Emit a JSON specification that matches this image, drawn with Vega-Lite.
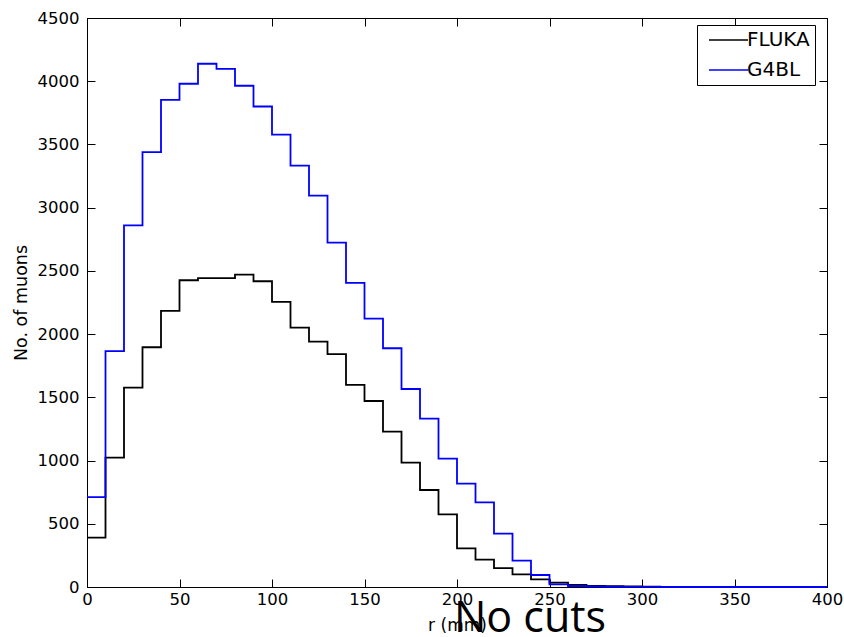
{
  "$schema": "https://vega.github.io/schema/vega-lite/v6.json",
  "width": 740,
  "height": 569,
  "autosize": {"type": "none"},
  "padding": {"left": 87, "top": 18, "right": 17, "bottom": 50},
  "background": "white",
  "title": {"text": "No cuts", "orient": "bottom", "anchor": "middle", "frame": "group", "font": "Open Sans", "fontSize": 43, "fontWeight": "normal", "color": "black", "dx": 73, "offset": -36},
  "config": {
    "view": {"stroke": "black", "strokeWidth": 1},
    "axis": {"grid": false, "domainColor": "black", "tickColor": "black", "labelColor": "black", "titleColor": "black", "labelFont": "DejaVu Sans", "titleFont": "DejaVu Sans", "titleFontWeight": "normal", "labelFlush": false, "labelOverlap": false}
  },
  "data": {"values": [
    {"r": 0, "count": 390, "series": "FLUKA"},
    {"r": 10, "count": 1023, "series": "FLUKA"},
    {"r": 20, "count": 1577, "series": "FLUKA"},
    {"r": 30, "count": 1896, "series": "FLUKA"},
    {"r": 40, "count": 2184, "series": "FLUKA"},
    {"r": 50, "count": 2426, "series": "FLUKA"},
    {"r": 60, "count": 2442, "series": "FLUKA"},
    {"r": 70, "count": 2442, "series": "FLUKA"},
    {"r": 80, "count": 2471, "series": "FLUKA"},
    {"r": 90, "count": 2418, "series": "FLUKA"},
    {"r": 100, "count": 2255, "series": "FLUKA"},
    {"r": 110, "count": 2052, "series": "FLUKA"},
    {"r": 120, "count": 1941, "series": "FLUKA"},
    {"r": 130, "count": 1841, "series": "FLUKA"},
    {"r": 140, "count": 1598, "series": "FLUKA"},
    {"r": 150, "count": 1471, "series": "FLUKA"},
    {"r": 160, "count": 1229, "series": "FLUKA"},
    {"r": 170, "count": 983, "series": "FLUKA"},
    {"r": 180, "count": 767, "series": "FLUKA"},
    {"r": 190, "count": 575, "series": "FLUKA"},
    {"r": 200, "count": 306, "series": "FLUKA"},
    {"r": 210, "count": 216, "series": "FLUKA"},
    {"r": 220, "count": 150, "series": "FLUKA"},
    {"r": 230, "count": 100, "series": "FLUKA"},
    {"r": 240, "count": 61, "series": "FLUKA"},
    {"r": 250, "count": 34, "series": "FLUKA"},
    {"r": 260, "count": 16, "series": "FLUKA"},
    {"r": 270, "count": 8, "series": "FLUKA"},
    {"r": 280, "count": 6, "series": "FLUKA"},
    {"r": 290, "count": 5, "series": "FLUKA"},
    {"r": 300, "count": 2, "series": "FLUKA"},
    {"r": 310, "count": 1, "series": "FLUKA"},
    {"r": 320, "count": 1, "series": "FLUKA"},
    {"r": 330, "count": 0, "series": "FLUKA"},
    {"r": 340, "count": 0, "series": "FLUKA"},
    {"r": 350, "count": 0, "series": "FLUKA"},
    {"r": 360, "count": 0, "series": "FLUKA"},
    {"r": 370, "count": 0, "series": "FLUKA"},
    {"r": 380, "count": 0, "series": "FLUKA"},
    {"r": 390, "count": 0, "series": "FLUKA"},
    {"r": 400, "count": 0, "series": "FLUKA"},
    {"r": 0, "count": 710, "series": "G4BL"},
    {"r": 10, "count": 1865, "series": "G4BL"},
    {"r": 20, "count": 2860, "series": "G4BL"},
    {"r": 30, "count": 3440, "series": "G4BL"},
    {"r": 40, "count": 3853, "series": "G4BL"},
    {"r": 50, "count": 3980, "series": "G4BL"},
    {"r": 60, "count": 4138, "series": "G4BL"},
    {"r": 70, "count": 4098, "series": "G4BL"},
    {"r": 80, "count": 3964, "series": "G4BL"},
    {"r": 90, "count": 3800, "series": "G4BL"},
    {"r": 100, "count": 3578, "series": "G4BL"},
    {"r": 110, "count": 3333, "series": "G4BL"},
    {"r": 120, "count": 3096, "series": "G4BL"},
    {"r": 130, "count": 2724, "series": "G4BL"},
    {"r": 140, "count": 2405, "series": "G4BL"},
    {"r": 150, "count": 2123, "series": "G4BL"},
    {"r": 160, "count": 1888, "series": "G4BL"},
    {"r": 170, "count": 1566, "series": "G4BL"},
    {"r": 180, "count": 1331, "series": "G4BL"},
    {"r": 190, "count": 1015, "series": "G4BL"},
    {"r": 200, "count": 817, "series": "G4BL"},
    {"r": 210, "count": 670, "series": "G4BL"},
    {"r": 220, "count": 422, "series": "G4BL"},
    {"r": 230, "count": 208, "series": "G4BL"},
    {"r": 240, "count": 95, "series": "G4BL"},
    {"r": 250, "count": 21, "series": "G4BL"},
    {"r": 260, "count": 8, "series": "G4BL"},
    {"r": 270, "count": 4, "series": "G4BL"},
    {"r": 280, "count": 2, "series": "G4BL"},
    {"r": 290, "count": 1, "series": "G4BL"},
    {"r": 300, "count": 1, "series": "G4BL"},
    {"r": 310, "count": 0, "series": "G4BL"},
    {"r": 320, "count": 0, "series": "G4BL"},
    {"r": 330, "count": 0, "series": "G4BL"},
    {"r": 340, "count": 0, "series": "G4BL"},
    {"r": 350, "count": 0, "series": "G4BL"},
    {"r": 360, "count": 0, "series": "G4BL"},
    {"r": 370, "count": 0, "series": "G4BL"},
    {"r": 380, "count": 0, "series": "G4BL"},
    {"r": 390, "count": 0, "series": "G4BL"},
    {"r": 400, "count": 0, "series": "G4BL"}
  ]},
  "layer": [
    {
      "mark": {"type": "line", "interpolate": "step-after", "strokeWidth": 1.8},
      "encoding": {
        "x": {"field": "r", "type": "quantitative", "scale": {"domain": [0, 400], "nice": false, "zero": false},
              "axis": {"title": "r (mm)", "format": "d", "values": [0, 50, 100, 150, 200, 250, 300, 350, 400], "tickSize": -8, "labelFontSize": 16.5, "labelPadding": 12, "titleFontSize": 17, "titlePadding": 10, "domain": true}},
        "y": {"field": "count", "type": "quantitative", "scale": {"domain": [0, 4500], "nice": false},
              "axis": {"title": "No. of muons", "format": "d", "values": [0, 500, 1000, 1500, 2000, 2500, 3000, 3500, 4000, 4500], "tickSize": -8, "labelFontSize": 16.5, "labelPadding": 16, "titleFontSize": 17.5, "titlePadding": 7, "domain": true}},
        "color": {"field": "series", "type": "nominal",
                  "scale": {"domain": ["FLUKA", "G4BL"], "range": ["black", "#0000ff"]},
                  "legend": {"title": null, "orient": "none", "legendX": 610, "legendY": 7, "symbolType": "M-0.6,0H7.2", "symbolSize": 100, "symbolStrokeWidth": 1.5, "labelFont": "DejaVu Sans", "labelFontSize": 20, "labelColor": "black", "labelOffset": 25, "labelExpr": "datum.label + ' '", "padding": 5, "rowPadding": 10, "strokeColor": "black", "fillColor": "white"}}
      }
    },
    {
      "mark": {"type": "point", "opacity": 0},
      "encoding": {
        "x": {"field": "r", "type": "quantitative", "axis": {"orient": "top", "title": null, "labels": false, "domain": false, "values": [0, 50, 100, 150, 200, 250, 300, 350, 400], "tickSize": -8}},
        "y": {"field": "count", "type": "quantitative", "axis": {"orient": "right", "title": null, "labels": false, "domain": false, "values": [0, 500, 1000, 1500, 2000, 2500, 3000, 3500, 4000, 4500], "tickSize": -8}}
      }
    }
  ],
  "resolve": {"axis": {"x": "independent", "y": "independent"}}
}
